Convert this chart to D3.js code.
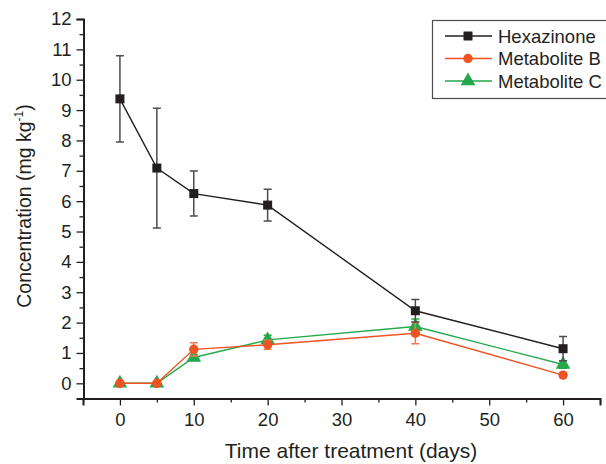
<!DOCTYPE html>
<html>
<head>
<meta charset="utf-8">
<script src="https://cdn.jsdelivr.net/npm/d3@7"></script>
<style>
  body { margin: 0; background: #fff; }
  text { font-family: "Liberation Sans", Arial, sans-serif; fill: #231f20; }
</style>
</head>
<body>
<script>
// data
var days = [0, 5, 10, 20, 40, 60];
var hexazinone    = [9.37, 7.09, 6.25, 5.87, 2.39, 1.14];
var hexazinoneErr = [1.42, 1.97, 0.74, 0.52, 0.37, 0.40];
var metB    = [0, 0, 1.12, 1.27, 1.65, 0.27];
var metBErr = [0, 0, 0.22, 0.15, 0.35, 0.06];
var metC    = [0, 0, 0.85, 1.43, 1.87, 0.62];
var metCErr = [0, 0, 0.10, 0.15, 0.25, 0.12];
var xTicks = [0, 10, 20, 30, 40, 50, 60];
var yTicks = [0, 1, 2, 3, 4, 5, 6, 7, 8, 9, 10, 11, 12];

var series = [
  {name: "Hexazinone",   values: hexazinone, err: hexazinoneErr, color: "#231f20", errColor: "#4d4d4d", shape: "square"},
  {name: "Metabolite B", values: metB, err: metBErr, color: "#f05323", errColor: "#f0795a", shape: "circle"},
  {name: "Metabolite C", values: metC, err: metCErr, color: "#23a94b", errColor: "#23a94b", shape: "triangle"}
];

var width = 606, height = 464;
var svg = d3.select("body").append("svg")
            .attr("width", width)
            .attr("height", height);

var x = d3.scaleLinear().domain([-5, 65]).range([83, 600]);
var y = d3.scaleLinear().domain([-0.5, 12]).range([398.5, 19]);

// x axis
svg.append("g")
   .attr("transform", "translate(0,398.5)")
   .call(d3.axisBottom(x).tickValues(xTicks).tickSize(7).tickPadding(7).tickFormat(d3.format("d")));
svg.append("g")
   .attr("transform", "translate(0,398.5)")
   .call(d3.axisBottom(x).tickValues([-5, 5, 15, 25, 35, 45, 55, 65]).tickSize(4).tickFormat(""))
   .select(".domain").remove();

// y axis
svg.append("g")
   .attr("transform", "translate(83.5,0)")
   .call(d3.axisLeft(y).tickValues(yTicks).tickSize(7).tickPadding(5).tickFormat(d3.format("d")));
svg.append("g")
   .attr("transform", "translate(83.5,0)")
   .call(d3.axisLeft(y).tickValues(d3.range(-0.5, 12, 1)).tickSize(4).tickFormat(""))
   .select(".domain").remove();

svg.selectAll(".domain").attr("stroke", "#231f20").attr("stroke-width", 2);
svg.selectAll(".tick line").attr("stroke", "#231f20").attr("stroke-width", 1.3);
svg.selectAll(".tick text").style("font-size", "18.5px").attr("fill", "#231f20");

// axis labels
svg.append("text")
   .attr("x", 351)
   .attr("y", 458)
   .style("text-anchor", "middle")
   .style("font-size", "21px")
   .text("Time after treatment (days)");

var ylab = svg.append("text")
   .attr("transform", "translate(31,206) rotate(-90)")
   .style("text-anchor", "middle")
   .style("font-size", "19.5px");
ylab.append("tspan").text("Concentration (mg kg");
ylab.append("tspan").attr("dy", -8).style("font-size", "12px").text("-1");
ylab.append("tspan").attr("dy", 8).text(")");

function drawMarker(g, shape, color, size) {
  if (shape === "square") {
    g.append("rect").attr("x", -size).attr("y", -size)
     .attr("width", size * 2).attr("height", size * 2).attr("fill", color);
  } else if (shape === "circle") {
    g.append("circle").attr("r", size * 1.05).attr("fill", color);
  } else {
    g.append("path").attr("d", d3.symbol(d3.symbolTriangle, size * size * 4.6)()).attr("fill", color);
  }
}

// draw series (back to front: C, B, Hexazinone)
series.slice().reverse().forEach(function(s) {
  var pts = days.map(function(d, i) { return {x: d, y: s.values[i], e: s.err[i]}; });
  var g = svg.append("g");

  g.selectAll(".err").data(pts.filter(function(p) { return p.e > 0; }))
   .enter().append("path")
   .attr("fill", "none")
   .attr("stroke", s.errColor)
   .attr("stroke-width", 1.5)
   .attr("d", function(p) {
     var cx = x(p.x), t = y(p.y + p.e), b = y(p.y - p.e);
     return "M" + (cx - 4) + "," + t + "H" + (cx + 4) +
            "M" + cx + "," + t + "V" + b +
            "M" + (cx - 4) + "," + b + "H" + (cx + 4);
   });

  g.append("path").datum(pts)
   .attr("fill", "none")
   .attr("stroke", s.color)
   .attr("stroke-width", 1.4)
   .attr("d", d3.line().x(function(p) { return x(p.x); }).y(function(p) { return y(p.y); }));

  g.selectAll(".mk").data(pts).enter().append("g")
   .attr("transform", function(p) { return "translate(" + x(p.x) + "," + y(p.y) + ")"; })
   .each(function() { drawMarker(d3.select(this), s.shape, s.color, 4.5); });
});

// legend
var legend = svg.append("g");
legend.append("rect")
   .attr("x", 432.5).attr("y", 20.5)
   .attr("width", 180).attr("height", 78)
   .attr("fill", "#fff").attr("stroke", "#4d4d4d").attr("stroke-width", 1.2);
series.forEach(function(s, i) {
  var ly = 36 + i * 22.5;
  legend.append("line")
     .attr("x1", 445).attr("x2", 492).attr("y1", ly).attr("y2", ly)
     .attr("stroke", s.color).attr("stroke-width", 1.4);
  var m = legend.append("g").attr("transform", "translate(468," + ly + ")");
  drawMarker(m, s.shape, s.color, 4.5);
  legend.append("text")
     .attr("x", 498).attr("y", ly + 6.5)
     .style("font-size", "18.5px")
     .text(s.name);
});
</script>
</body>
</html>
